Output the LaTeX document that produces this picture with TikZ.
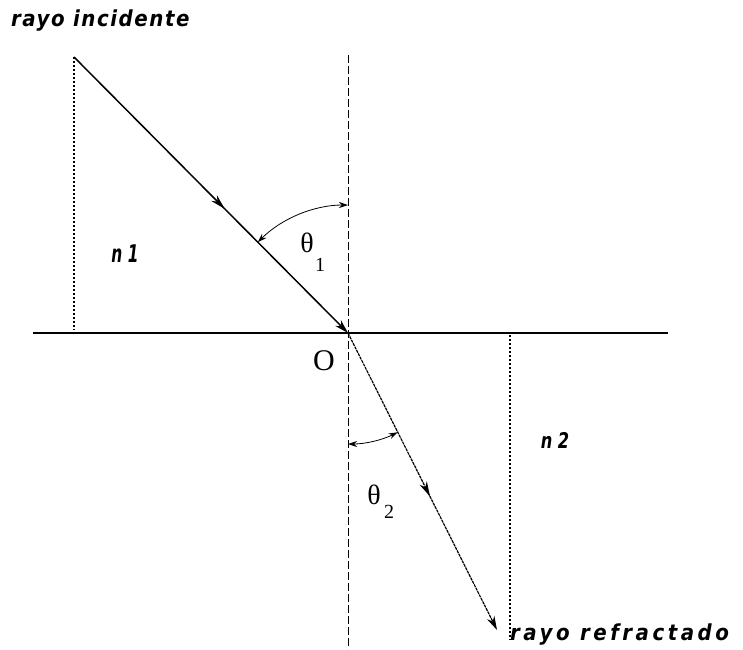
\documentclass[tikz,border=0pt]{standalone}
\usepackage{graphicx}
\usepackage{fontspec}
\setmainfont{Liberation Serif}
\newfontfamily\labfont[LetterSpace=7]{DejaVu Sans Condensed}
\newfontfamily\labfontw[LetterSpace=16]{DejaVu Sans Condensed}
\newfontfamily\nfont{DejaVu Sans Condensed}
\usetikzlibrary{arrows.meta,decorations.markings}
\begin{document}
\begin{tikzpicture}[x=1pt,y=-1pt,
  lab/.style={font=\labfont\bfseries\itshape\fontsize{22}{24}\selectfont, inner sep=0pt},
  labw/.style={font=\labfontw\bfseries\itshape\fontsize{22}{24}\selectfont, inner sep=0pt},
  nlab/.style={font=\nfont\bfseries\itshape\fontsize{18}{20}\selectfont, inner sep=0pt},
  greek/.style={font=\fontsize{28}{30}\selectfont, inner sep=0pt},
  sub/.style={font=\fontsize{20}{22}\selectfont, inner sep=0pt},
  tip/.style={-{Stealth[length=14pt,width=8pt]}},
  midtip/.style={postaction={decorate,decoration={markings,mark=at position #1 with {\arrow{Stealth[length=15pt,width=8pt]}}}}},
  dashv/.style={line width=0.9pt, dash pattern=on 8pt off 3pt},
  dotv/.style={line width=1.2pt, dash pattern=on 1.5pt off 2.5pt},
  anglearc/.style={line width=0.8pt, {Stealth[length=9pt,width=6pt]}-{Stealth[length=9pt,width=6pt]}}
]
\useasboundingbox (0,0) rectangle (743,649);
\coordinate (O) at (348,333);
\coordinate (A) at (74,57);
\coordinate (Abase) at (74,330);
\coordinate (R) at (497,630);
\coordinate (Rtop) at (510,335);
\coordinate (Rbase) at (510,640);
\coordinate (Hl) at (33,333);
\coordinate (Hr) at (668,333);
\coordinate (Vt) at (348,55);
\coordinate (Vb) at (348,649);
% interface
\draw[line width=1.1pt] (Hl) -- (Hr);
% normal
\draw[dashv] (Vt) -- (Vb);
% dotted verticals
\draw[dotv] (A) -- (Abase);
\draw[dotv] (Rtop) -- (Rbase);
% incident ray
\draw[line width=1.5pt, tip, midtip=0.55] (A) -- (O);
% refracted ray
\draw[line width=1.2pt, dash pattern=on 3pt off 0.8pt, tip, midtip=0.55] (O) -- (R);
% angle arcs
\draw[anglearc] (348,205) arc[start angle=-90, end angle=-134.8, radius=128];
\draw[anglearc] (348,444) arc[start angle=90, end angle=63.4, radius=111];
% labels
\node[lab, anchor=west] (ri) at (11,21) {rayo incidente};
\node[labw, anchor=west] (rr) at (510,634) {rayo refractado};
\node[nlab] (n1) at (125,254) {\scalebox{0.95}[1.35]{n 1}};
\node[nlab] (n2) at (555,440) {\scalebox{1}[1.2]{n 2}};
\node[font=\fontsize{30}{32}\selectfont, inner sep=0pt] (Olab) at (324,361) {O};
\node[greek] (t1) at (307,243) {θ};
\node[sub] (t1s) at (320,265) {1};
\node[greek] (t2) at (374,495) {θ};
\node[sub] (t2s) at (389,512) {2};
\end{tikzpicture}
\end{document}
